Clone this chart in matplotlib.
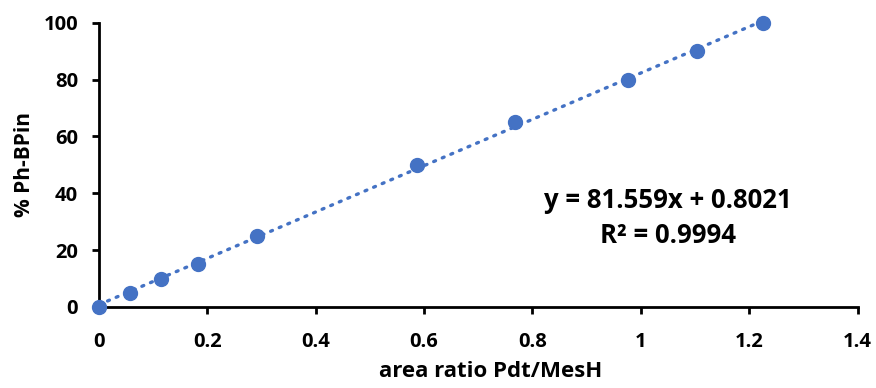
import numpy as np
import matplotlib.pyplot as plt

#---------data-----------------------------------------
ratio = [0.0, 0.057, 0.115, 0.183, 0.291, 0.587, 0.767, 0.976, 1.103, 1.225]
percent = [0, 5, 10, 15, 25, 50, 65, 80, 90, 100]
slope = 81.559
intercept = 0.8021
r2 = 0.9994

x_ticks = [0, 0.2, 0.4, 0.6, 0.8, 1, 1.2, 1.4]
x_tick_labels = ["0", "0.2", "0.4", "0.6", "0.8", "1", "1.2", "1.4"]
y_ticks = [0, 20, 40, 60, 80, 100]

blue = "#4472C4"
plt.rcParams['font.family'] = ['Open Sans', 'DejaVu Sans']
plt.rcParams['font.weight'] = 'bold'

fig = plt.figure(figsize=(8.76, 3.88), dpi=100)
ax = fig.add_axes([0.113, 0.209, 0.866, 0.732])

#---------trendline from the printed fit-----------
xf = np.array([min(ratio), max(ratio)])
ax.plot(xf, slope * xf + intercept, color=blue, lw=2.4,
        linestyle=(0, (0.6, 2.2)), dash_capstyle='round', zorder=2)
ax.plot(ratio, percent, 'o', color=blue, markersize=10, zorder=3, clip_on=False)

ax.set_xlim(0, 1.4)
ax.set_ylim(0, 100)
ax.set_xticks(x_ticks)
ax.set_xticklabels(x_tick_labels)
ax.set_yticks(y_ticks)
ax.tick_params(axis='both', labelsize=14.5, width=2, length=5, color='black')
ax.tick_params(axis='x', pad=13)
ax.tick_params(axis='y', pad=10)
for lab in ax.get_xticklabels() + ax.get_yticklabels():
    lab.set_fontweight('bold')

for s in ['top', 'right']:
    ax.spines[s].set_visible(False)
for s in ['left', 'bottom']:
    ax.spines[s].set_linewidth(2)
    ax.spines[s].set_color('black')

ax.set_xlabel("area ratio Pdt/MesH", fontsize=16, fontweight='bold')
ax.xaxis.set_label_coords(0.516, -0.19)
ax.set_ylabel("% Ph-BPin", fontsize=15, fontweight='bold')
ax.yaxis.set_label_coords(-0.085, 0.5)

ax.text(0.75, 0.313, "y = %.3fx + %.4f\nR² = %.4f" % (slope, intercept, r2),
        transform=ax.transAxes, ha='center', va='center', fontsize=18.5,
        fontweight='bold', linespacing=1.4)

plt.savefig("out.png", dpi=100)
